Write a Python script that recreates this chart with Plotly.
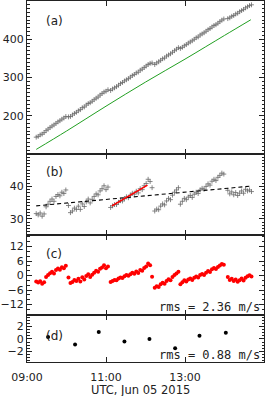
import plotly.graph_objects as go

# time of each sample, minutes after 09:00 UTC (Jun 05 2015)
t_min = [14, 17, 20, 23, 26, 29, 32, 35, 38, 41, 44, 47, 50, 53, 56, 59,
         63, 66, 69, 72, 75, 78, 81, 84, 87, 90, 93, 96, 99, 102, 105, 108, 111, 114, 117, 120, 123,
         127, 130, 133, 136, 139, 142, 145, 148, 151, 154, 157, 160, 163, 166, 169, 172, 175, 178, 181, 184, 187, 190,
         194, 197, 200, 203, 206, 209, 212, 215, 218, 221, 224, 227, 230,
         233, 236, 239, 242, 245, 248, 251, 254, 257, 260, 263, 266, 269, 272, 275, 278, 281, 284, 287, 290, 293, 296, 299,
         305, 308, 311, 314, 317, 320, 323, 326, 329, 332, 335, 338, 341]

# panel (a) observed values (black +)
a_obs = [144, 146, 150, 152, 156, 161, 165, 169, 173, 176, 180, 184, 187, 191, 194, 198,
         197, 198, 202, 206, 209, 213, 216, 221, 223, 228, 232, 234, 238, 242, 246, 249, 254, 258, 262, 264, 268,
         266, 270, 273, 276, 280, 284, 287, 291, 294, 297, 301, 305, 308, 312, 314, 319, 322, 326, 330, 334, 337, 338,
         334, 338, 341, 345, 349, 351, 356, 359, 362, 366, 370, 374, 378,
         376, 379, 383, 386, 390, 393, 396, 400, 404, 406, 411, 414, 417, 421, 425, 428, 432, 436, 438, 442, 446, 450, 453,
         454, 456, 460, 462, 466, 468, 472, 475, 478, 482, 485, 488, 490]

# panel (a) model curve (green)
green_t = [14, 60, 120, 180, 240, 300, 340]
green_v = [112, 160, 225, 288, 348, 410, 451]

# panel (b) difference values (black +)
b_obs = [31.6, 31.2, 31.8, 30.8, 31.5, 33.7, 34.5, 35.4, 36.1, 35.4, 36.9, 37.5, 37.1, 38.2, 37.8, 38.9,
         34.1, 31.9, 32.4, 33.3, 32.9, 33.9, 32.9, 34.6, 33.8, 35.2, 36.1, 34.9, 36.0, 36.9, 37.7, 37.4, 38.6, 39.3, 40.2, 39.0, 39.8,
         33.5, 34.0, 34.4, 34.4, 35.1, 35.6, 35.5, 36.2, 36.8, 36.5, 37.3, 37.9, 37.6, 38.5, 38.0, 39.3, 39.0, 40.2, 40.9, 42.2, 41.5, 39.6,
         32.4, 33.0, 32.8, 33.9, 34.6, 34.3, 35.5, 36.3, 35.9, 37.3, 38.2, 38.9, 39.6,
         34.5, 35.4, 36.3, 35.9, 36.7, 37.2, 36.6, 37.6, 38.2, 37.8, 38.9, 39.4, 39.1, 40.0, 40.8, 40.4, 41.6, 42.2, 41.8, 42.8, 43.4, 44.1, 43.8,
         38.8, 37.7, 38.3, 37.4, 38.1, 37.2, 37.9, 38.6, 37.9, 39.1, 38.6, 38.9, 38.4]

# panel (b) linear trend (dashed) and local fit (red)
trend_t = [14, 341]
trend_v = [34.0, 40.1]
fit_t = [129, 183]
fit_v = [34.0, 40.4]

# panel (c) residuals (m/s)
c_res = [-2.4, -2.9, -2.3, -3.4, -2.7, -0.6, 0.2, 1.0, 1.6, 0.9, 2.3, 2.9, 2.4, 3.5, 3.0, 4.1,
         -0.8, -3.1, -2.6, -1.8, -2.2, -1.3, -2.4, -0.7, -1.6, -0.2, 0.6, -0.6, 0.4, 1.2, 2.0, 1.6, 2.8, 3.4, 4.3, 3.0, 3.8,
         -2.6, -2.2, -1.8, -1.9, -1.2, -0.8, -1.0, -0.3, 0.2, -0.1, 0.6, 1.2, 0.8, 1.7, 1.1, 2.3, 2.0, 3.1, 3.8, 5.0, 4.3, -0.5,
         -5.0, -4.4, -4.7, -3.6, -3.0, -3.4, -2.2, -1.5, -1.9, -0.6, 0.3, 0.9, 1.6,
         -3.6, -2.8, -1.9, -2.4, -1.6, -1.2, -1.8, -0.9, -0.4, -0.8, 0.2, 0.7, 0.3, 1.2, 1.9, 1.5, 2.6, 3.1, 2.7, 3.6, 4.2, 4.8, 4.5,
         -0.6, -1.8, -1.3, -2.2, -1.6, -2.5, -1.9, -1.2, -2.0, -0.9, -0.3, 0.1, -0.4]

# panel (d) binned residuals (m/s)
d_t = [32, 73, 109, 148, 186, 225, 262, 302]
d_v = [0.3, -0.9, 1.1, -0.4, 0.0, -1.5, 0.5, 1.0]

x_tickvals = [0, 120, 240, 360]
x_ticktext = ["09:00", "11:00", "13:00", ""]
rms_c = "rms = 2.36 m/s"
rms_d = "rms = 0.88 m/s"

FONT = "DejaVu Sans"
LC = "#222222"

fig = go.Figure()
plus = dict(symbol="cross-thin", size=3.5, line=dict(width=0.8, color="#6a6a6a"))

fig.add_trace(go.Scatter(x=t_min, y=a_obs, mode="markers", marker=plus, xaxis="x", yaxis="y"))
fig.add_trace(go.Scatter(x=green_t, y=green_v, mode="lines", line=dict(color="#22a022", width=1, shape="spline"),
                         xaxis="x", yaxis="y"))
fig.add_trace(go.Scatter(x=t_min, y=b_obs, mode="markers", marker=plus, xaxis="x2", yaxis="y2"))
fig.add_trace(go.Scatter(x=trend_t, y=trend_v, mode="lines", line=dict(color="black", width=1.1, dash="4px,3px"),
                         xaxis="x2", yaxis="y2"))
fig.add_trace(go.Scatter(x=fit_t, y=fit_v, mode="lines", line=dict(color="red", width=1.6),
                         xaxis="x2", yaxis="y2"))
fig.add_trace(go.Scatter(x=t_min, y=c_res, mode="markers", marker=dict(size=4, color="red"),
                         xaxis="x3", yaxis="y3"))
fig.add_trace(go.Scatter(x=d_t, y=d_v, mode="markers", marker=dict(size=4, color="black"),
                         xaxis="x4", yaxis="y4"))

# panel pixel boundaries -> paper domains (plot area y from 1 to 362)
H = 361.0
def dom(top_px, bot_px):
    return [(362 - bot_px) / H, (362 - top_px) / H]

tickfont = dict(family=FONT, size=11, color=LC)

def yax(domain, rng, tickvals, minor_dtick, anchor):
    return dict(domain=domain, range=rng, tickvals=tickvals, ticks="inside", ticklen=5,
                tickcolor=LC, showline=True, linecolor=LC, linewidth=1, mirror="ticks",
                showgrid=False, zeroline=False, tickfont=tickfont, anchor=anchor,
                automargin=False,
                minor=dict(ticks="inside", ticklen=2.5, dtick=minor_dtick, tick0=0,
                           tickcolor=LC, showgrid=False))

def xax(anchor, labels):
    d = dict(domain=[0, 1], range=[0, 360], tickvals=x_tickvals, ticktext=x_ticktext,
             ticks="inside", ticklen=5, tickcolor=LC, showline=True, linecolor=LC,
             linewidth=1, mirror="ticks", showgrid=False, zeroline=False,
             showticklabels=labels, tickfont=tickfont, anchor=anchor, automargin=False)
    if labels:
        d["ticklabelstandoff"] = 5
    return d

fig.update_layout(
    width=266, height=396,
    margin=dict(l=27, r=2, t=1, b=34),
    paper_bgcolor="white", plot_bgcolor="white",
    showlegend=False,
    font=dict(family=FONT, size=11, color=LC),
    xaxis=xax("y", False),
    xaxis2=xax("y2", False),
    xaxis3=xax("y3", False),
    xaxis4=xax("y4", True),
    yaxis=yax(dom(1, 154), [100, 500], [200, 300, 400], 10, "x"),
    yaxis2=yax(dom(154, 235), [25, 50], [30, 40], 1, "x2"),
    yaxis3=yax(dom(235, 315), [-16.3, 16.8], [-12, -6, 0, 6, 12], 2, "x3"),
    yaxis4=yax(dom(315, 362), [-3.7, 3.85], [-2, 0, 2], 0.5, "x4"),
)

def px_y(y):
    return (362 - y) / H

def px_x(x):
    return (x - 27) / 237.0

ann = []
for lab, y in [("(a)", 21), ("(b)", 172), ("(c)", 254), ("(d)", 336)]:
    ann.append(dict(text=lab, x=px_x(44), y=px_y(y), xref="paper", yref="paper",
                    xanchor="left", yanchor="middle", showarrow=False,
                    font=dict(family=FONT, size=12, color=LC)))
ann.append(dict(text=rms_c, x=px_x(262), y=px_y(307), xref="paper", yref="paper",
                xanchor="right", yanchor="middle", showarrow=False,
                font=dict(family="DejaVu Sans Mono", size=12, color=LC)))
ann.append(dict(text=rms_d, x=px_x(262), y=px_y(355), xref="paper", yref="paper",
                xanchor="right", yanchor="middle", showarrow=False,
                font=dict(family="DejaVu Sans Mono", size=12, color=LC)))
ann.append(dict(text="UTC, Jun 05 2015", x=px_x(140), y=px_y(390), xref="paper", yref="paper",
                xanchor="center", yanchor="middle", showarrow=False,
                font=dict(family=FONT, size=11.5, color=LC)))
fig.update_layout(annotations=ann)

fig.write_html("out.html", config={"displayModeBar": False},
               post_script="document.body.style.margin='0';document.body.style.padding='0';")
